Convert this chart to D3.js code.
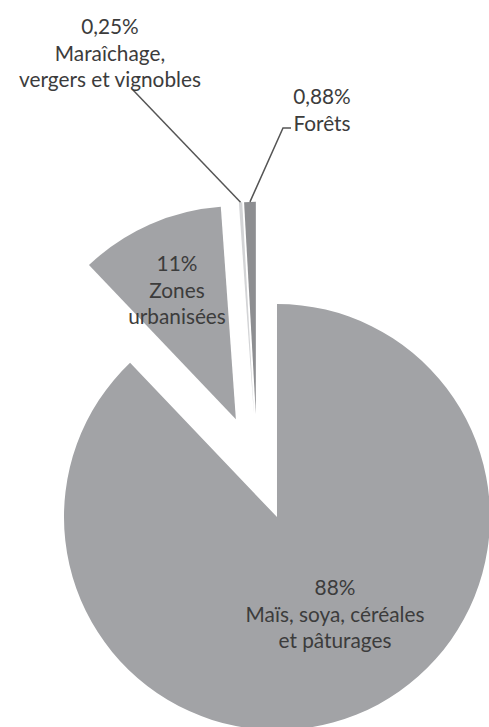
<!DOCTYPE html>
<html>
<head>
<meta charset="utf-8">
<script src="https://cdn.jsdelivr.net/npm/d3@7"></script>
<style>
  body { margin: 0; background: #fff; }
  text { font-family: Lato, "Open Sans", sans-serif; font-size: 20.8px; fill: #3c3c3c; }
</style>
</head>
<body>
<script>
const w = 489;
const h = 727;

// data
const categories = ["Maïs, soya, céréales et pâturages", "Zones urbanisées", "Maraîchage, vergers et vignobles", "Forêts"];
const values = [88, 11, 0.25, 0.88];
const percentLabels = ["88%", "11%", "0,25%", "0,88%"];
const nameLines = [["Maïs, soya, céréales", "et pâturages"], ["Zones", "urbanisées"], ["Maraîchage,", "vergers et vignobles"], ["Forêts"]];

const colors = ["#a2a3a6", "#a2a3a6", "#d3d4d6", "#8d8e91"];

// layout
const cx = 257.3;
const cy = 467.8;
const r = 213;
const explode = 53;
const lineH = 26.5;
// first-line baseline of each label
const labelPos = [
  { x: 335, y: 595 },
  { x: 177, y: 271 },
  { x: 110, y: 34 },
  { x: 322, y: 104 }
];

const data = categories.map((c, i) => ({ name: c, value: values[i], pct: percentLabels[i], lines: nameLines[i] }));

const svg = d3.select("body").append("svg")
  .attr("width", w)
  .attr("height", h);

const pie = d3.pie().sort(null).value(d => d.value);
const arc = d3.arc().innerRadius(0).outerRadius(r);
const arcs = pie(data);

// every slice is pulled out along its mid angle
function offset(d) {
  const a = (d.startAngle + d.endAngle) / 2;
  return [cx + explode * Math.sin(a), cy - explode * Math.cos(a)];
}

svg.selectAll("path.slice")
  .data(arcs)
  .enter()
  .append("path")
  .attr("class", "slice")
  .attr("d", arc)
  .attr("transform", d => "translate(" + offset(d) + ")")
  .attr("fill", (d, i) => colors[i]);

// leader lines for the thin slices
function outerPoint(d) {
  const a = (d.startAngle + d.endAngle) / 2;
  const o = offset(d);
  return [o[0] + r * Math.sin(a), o[1] - r * Math.cos(a)];
}
const mar = outerPoint(arcs[2]);
const fo = outerPoint(arcs[3]);

svg.append("path")
  .attr("d", d3.line()([[133, 90], mar]))
  .attr("stroke", "#555")
  .attr("stroke-width", 1.5)
  .attr("fill", "none");

svg.append("path")
  .attr("d", d3.line()([fo, [283, 128], [291, 128]]))
  .attr("stroke", "#555")
  .attr("stroke-width", 1.5)
  .attr("fill", "none");

// labels
data.forEach(function (d, i) {
  const p = labelPos[i];
  const t = svg.append("text")
    .attr("text-anchor", "middle");
  [d.pct].concat(d.lines).forEach(function (s, j) {
    t.append("tspan")
      .attr("x", p.x)
      .attr("y", p.y + j * lineH)
      .text(s);
  });
});
</script>
</body>
</html>
